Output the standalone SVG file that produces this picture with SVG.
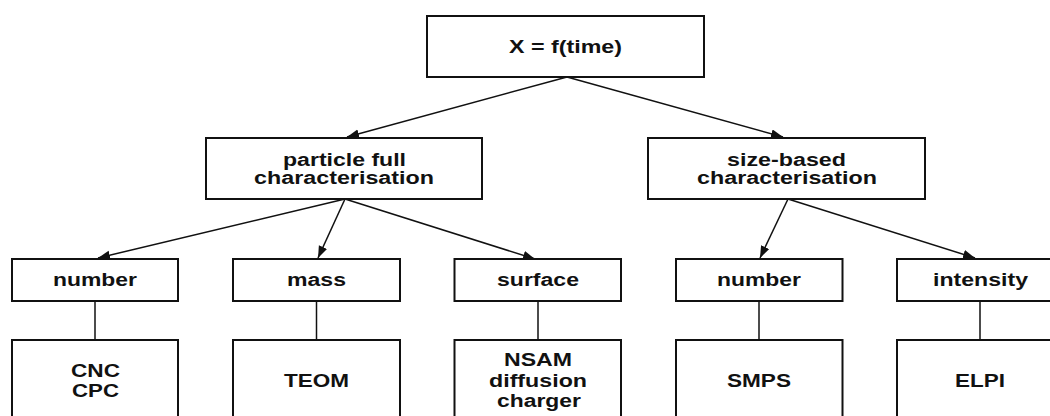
<svg xmlns="http://www.w3.org/2000/svg" width="1050" height="416" viewBox="0 0 1050 416">
<style>
.box{fill:#fff;stroke:#111;stroke-width:2}
.t{font-family:"Liberation Sans",Arial,sans-serif;font-weight:bold;font-size:18px;fill:#111;text-anchor:middle}
.c{stroke:#111;stroke-width:1.5;fill:none}
</style>
<defs>
<marker id="ah" markerUnits="userSpaceOnUse" markerWidth="13" markerHeight="10" refX="12" refY="4.5" orient="auto">
<path d="M0,0 L12,4.5 L0,9 z" fill="#111"/>
</marker>
</defs>
<rect width="1050" height="416" fill="#fff"/>
<g id="connectors">
<line class="c" x1="567" y1="77" x2="347" y2="137" marker-end="url(#ah)"/>
<line class="c" x1="567" y1="77" x2="783" y2="137" marker-end="url(#ah)"/>
<line class="c" x1="345" y1="199" x2="98" y2="258" marker-end="url(#ah)"/>
<line class="c" x1="345" y1="199" x2="318" y2="258" marker-end="url(#ah)"/>
<line class="c" x1="345" y1="199" x2="535" y2="259" marker-end="url(#ah)"/>
<line class="c" x1="788" y1="199" x2="760" y2="258" marker-end="url(#ah)"/>
<line class="c" x1="788" y1="199" x2="975" y2="258" marker-end="url(#ah)"/>
<line class="c" x1="95" y1="301" x2="95" y2="340"/>
<line class="c" x1="316.5" y1="301" x2="316.5" y2="340"/>
<line class="c" x1="538" y1="301" x2="538" y2="340"/>
<line class="c" x1="759" y1="301" x2="759" y2="340"/>
<line class="c" x1="980" y1="301" x2="980" y2="340"/>
</g>
<g id="root">
<rect class="box" x="427" y="16" width="277" height="61"/>
<text class="t" x="565.5" y="52.5" textLength="113" lengthAdjust="spacingAndGlyphs">X = f(time)</text>
</g>
<g id="particle-full">
<rect class="box" x="206" y="138" width="276" height="61"/>
<text class="t" x="344.5" y="166" textLength="123" lengthAdjust="spacingAndGlyphs">particle full</text>
<text class="t" x="344" y="184" textLength="180" lengthAdjust="spacingAndGlyphs">characterisation</text>
</g>
<g id="size-based">
<rect class="box" x="648" y="138" width="277" height="61"/>
<text class="t" x="786.5" y="165.5" textLength="119" lengthAdjust="spacingAndGlyphs">size-based</text>
<text class="t" x="787" y="183.5" textLength="180" lengthAdjust="spacingAndGlyphs">characterisation</text>
</g>
<g id="number1">
<rect class="box" x="12" y="259" width="166" height="42"/>
<text class="t" x="95" y="286" textLength="84" lengthAdjust="spacingAndGlyphs">number</text>
</g>
<g id="mass">
<rect class="box" x="233" y="259" width="167" height="42"/>
<text class="t" x="316.5" y="286" textLength="59" lengthAdjust="spacingAndGlyphs">mass</text>
</g>
<g id="surface">
<rect class="box" x="454.5" y="259" width="166.5" height="42"/>
<text class="t" x="538" y="286" textLength="82" lengthAdjust="spacingAndGlyphs">surface</text>
</g>
<g id="number2">
<rect class="box" x="676" y="259" width="166.5" height="42"/>
<text class="t" x="759" y="286" textLength="84" lengthAdjust="spacingAndGlyphs">number</text>
</g>
<g id="intensity">
<rect class="box" x="897" y="259" width="166" height="42"/>
<text class="t" x="980.5" y="286" textLength="95" lengthAdjust="spacingAndGlyphs">intensity</text>
</g>
<g id="cnc-cpc">
<rect class="box" x="12" y="340" width="166" height="90"/>
<text class="t" x="95.5" y="377" textLength="49" lengthAdjust="spacingAndGlyphs">CNC</text>
<text class="t" x="95.5" y="397" textLength="47" lengthAdjust="spacingAndGlyphs">CPC</text>
</g>
<g id="teom">
<rect class="box" x="233" y="340" width="167" height="90"/>
<text class="t" x="316.5" y="387" textLength="65" lengthAdjust="spacingAndGlyphs">TEOM</text>
</g>
<g id="nsam">
<rect class="box" x="454.5" y="340" width="166.5" height="90"/>
<text class="t" x="538" y="366" textLength="68" lengthAdjust="spacingAndGlyphs">NSAM</text>
<text class="t" x="538" y="387" textLength="98" lengthAdjust="spacingAndGlyphs">diffusion</text>
<text class="t" x="539" y="407" textLength="84" lengthAdjust="spacingAndGlyphs">charger</text>
</g>
<g id="smps">
<rect class="box" x="676" y="340" width="166.5" height="90"/>
<text class="t" x="759" y="387" textLength="64" lengthAdjust="spacingAndGlyphs">SMPS</text>
</g>
<g id="elpi">
<rect class="box" x="897" y="340" width="166" height="90"/>
<text class="t" x="980" y="387" textLength="50" lengthAdjust="spacingAndGlyphs">ELPI</text>
</g>
</svg>
